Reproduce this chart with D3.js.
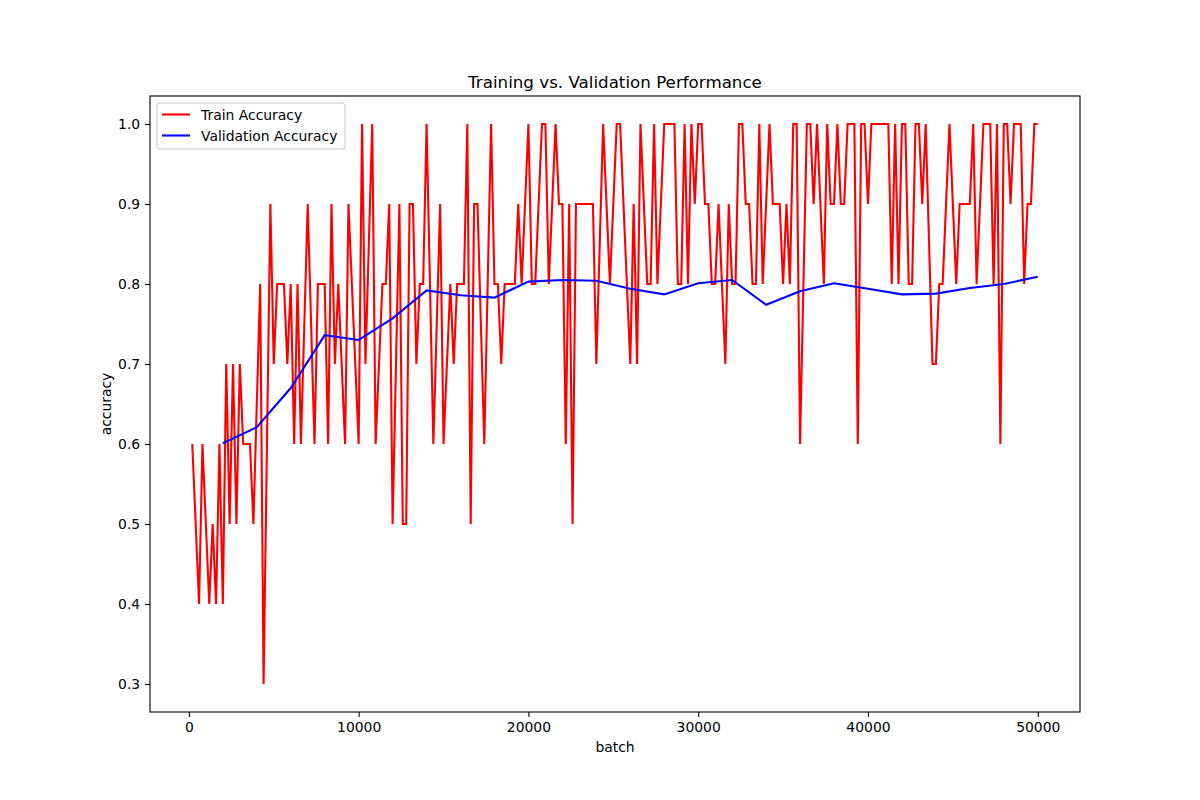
<!DOCTYPE html>
<html>
<head>
<meta charset="utf-8">
<script src="https://cdn.jsdelivr.net/npm/d3@7"></script>
<style>
  body { margin: 0; background: #fff; }
  svg text { font-family: "DejaVu Sans", sans-serif; fill: #000; }
</style>
</head>
<body>
<svg id="chart" width="1200" height="800"></svg>
<script>
// ---- data ----
const trainBatch = [
  200, 600, 800, 1200, 1400, 1600, 1800, 2000, 2200, 2400, 2600, 2800, 3000, 3200, 3400, 3600, 3800,
  4200, 4400, 4800, 5000, 5200, 5400, 5600, 5800, 6000, 6200, 6400, 6600, 7000, 7400, 7600, 7800,
  8000, 8200, 8400, 8600, 8800, 9200, 9400, 10000, 10200, 10400, 10800, 11000, 11400, 11600, 11800,
  12000, 12400, 12600, 12800, 13000, 13200, 13400, 13600, 13800, 14000, 14400, 14800, 15000, 15400,
  15600, 15800, 16000, 16200, 16400, 16600, 16800, 17000, 17400, 17800, 18000, 18200, 18400, 18600,
  18800, 19000, 19200, 19400, 19600, 20000, 20200, 20400, 20800, 21000, 21200, 21600, 21800, 22000,
  22200, 22400, 22600, 22800, 23000, 23200, 23400, 23600, 23800, 24000, 24400, 24800, 25200, 25400,
  26000, 26200, 26400, 26600, 27000, 27200, 27400, 27600, 28000, 28200, 28400, 28600, 28800, 29000,
  29200, 29400, 29600, 29800, 30000, 30200, 30400, 30600, 30800, 31000, 31200, 31600, 31800, 32000,
  32200, 32400, 32600, 32800, 33000, 33200, 33400, 33600, 33800, 34200, 34400, 34600, 34800, 35000,
  35200, 35400, 35600, 35800, 36000, 36400, 36600, 36800, 37000, 37400, 37600, 37800, 38000, 38200,
  38400, 38600, 38800, 39000, 39200, 39400, 39600, 39800, 40000, 40200, 40400, 40600, 40800, 41000,
  41200, 41400, 41600, 41800, 42000, 42200, 42400, 42600, 42800, 43000, 43200, 43400, 43800, 44000,
  44200, 44400, 44800, 45200, 45400, 45600, 45800, 46000, 46200, 46400, 46800, 47000, 47200, 47400,
  47600, 47800, 48000, 48200, 48400, 48600, 48800, 49000, 49200, 49400, 49600, 49800, 50000
];
const trainAcc = [
  0.6, 0.4, 0.6, 0.4, 0.5, 0.4, 0.6, 0.4, 0.7, 0.5, 0.7, 0.5, 0.7, 0.6, 0.6, 0.6, 0.5,
  0.8, 0.3, 0.9, 0.7, 0.8, 0.8, 0.8, 0.7, 0.8, 0.6, 0.8, 0.6, 0.9, 0.6, 0.8, 0.8,
  0.8, 0.6, 0.9, 0.7, 0.8, 0.6, 0.9, 0.6, 1.0, 0.7, 1.0, 0.6, 0.8, 0.8, 0.9,
  0.5, 0.9, 0.5, 0.5, 0.9, 0.9, 0.7, 0.8, 0.8, 1.0, 0.6, 0.9, 0.6, 0.8,
  0.7, 0.8, 0.8, 0.8, 1.0, 0.5, 0.9, 0.9, 0.6, 1.0, 0.8, 0.8, 0.7, 0.8,
  0.8, 0.8, 0.8, 0.9, 0.8, 1.0, 0.8, 0.8, 1.0, 1.0, 0.8, 1.0, 0.9, 0.9,
  0.6, 0.9, 0.5, 0.9, 0.9, 0.9, 0.9, 0.9, 0.9, 0.7, 1.0, 0.8, 1.0, 1.0,
  0.7, 0.9, 0.7, 1.0, 0.8, 0.8, 1.0, 0.8, 1.0, 1.0, 1.0, 1.0, 0.8, 0.8,
  1.0, 0.8, 1.0, 0.9, 1.0, 1.0, 0.9, 0.9, 0.8, 0.8, 0.9, 0.7, 0.9, 0.8,
  0.8, 1.0, 1.0, 0.9, 0.9, 0.8, 0.8, 1.0, 0.8, 1.0, 0.9, 0.9, 0.9, 0.8,
  0.9, 0.8, 1.0, 1.0, 0.6, 1.0, 1.0, 0.9, 1.0, 0.8, 1.0, 0.9, 0.9, 1.0,
  0.9, 0.9, 1.0, 1.0, 1.0, 0.6, 1.0, 1.0, 0.9, 1.0, 1.0, 1.0, 1.0, 1.0,
  1.0, 0.8, 1.0, 0.8, 1.0, 1.0, 0.8, 0.8, 1.0, 1.0, 0.9, 1.0, 0.7, 0.7,
  0.8, 0.8, 1.0, 0.8, 0.9, 0.9, 0.9, 0.9, 1.0, 0.8, 1.0, 1.0, 1.0, 0.8,
  1.0, 0.6, 1.0, 1.0, 0.9, 1.0, 1.0, 1.0, 0.8, 0.9, 0.9, 1.0, 1.0
];

const valBatch = [
  2000, 4000, 6000, 8000, 10000, 12000, 14000, 16000, 18000, 20000, 22000, 24000, 26000,
  28000, 30000, 32000, 34000, 36000, 38000, 40000, 42000, 44000, 46000, 48000, 50000
];
const valAcc = [
  0.601, 0.621, 0.670, 0.736, 0.730, 0.757, 0.792, 0.786, 0.783, 0.803, 0.805, 0.804, 0.794,
  0.787, 0.801, 0.805, 0.774, 0.791, 0.801, 0.794, 0.787, 0.788, 0.795, 0.800, 0.809
];

const xTicks = [0, 10000, 20000, 30000, 40000, 50000];
const yTicks = [0.3, 0.4, 0.5, 0.6, 0.7, 0.8, 0.9, 1.0];

const seriesNames = ["Train Accuracy", "Validation Accuracy"];
const seriesColors = ["#ff0000", "#0000ff"];

// ---- layout (matplotlib 12x8in @100dpi defaults) ----
const plotLeft = 150, plotRight = 1080, plotTop = 96, plotBottom = 712;

const trainData = trainBatch.map((b, i) => ({ x: b, y: trainAcc[i] }));
const valData = valBatch.map((b, i) => ({ x: b, y: valAcc[i] }));
const allPts = trainData.concat(valData);

// 5% margins like matplotlib
const [x0, x1] = d3.extent(allPts, d => d.x);
const [y0, y1] = d3.extent(allPts, d => d.y);
const xPad = (x1 - x0) * 0.05, yPad = (y1 - y0) * 0.05;

const xScale = d3.scaleLinear().domain([x0 - xPad, x1 + xPad]).range([plotLeft, plotRight]);
const yScale = d3.scaleLinear().domain([y0 - yPad, y1 + yPad]).range([plotBottom, plotTop]);

const svg = d3.select("#chart");

const line = d3.line().x(d => xScale(d.x)).y(d => yScale(d.y));

svg.append("path")
  .attr("d", line(trainData))
  .attr("fill", "none")
  .attr("stroke", seriesColors[0])
  .attr("stroke-width", 2.1);

svg.append("path")
  .attr("d", line(valData))
  .attr("fill", "none")
  .attr("stroke", seriesColors[1])
  .attr("stroke-width", 2.1);

// ---- axes ----
const xAxis = d3.axisBottom(xScale).tickValues(xTicks).tickSize(4.9).tickPadding(4.9)
  .tickFormat(d3.format("d"));
const yAxis = d3.axisLeft(yScale).tickValues(yTicks).tickSize(4.9).tickPadding(4.9)
  .tickFormat(d3.format(".1f"));

const gx = svg.append("g").attr("transform", `translate(0,${plotBottom})`).call(xAxis);
const gy = svg.append("g").attr("transform", `translate(${plotLeft},0)`).call(yAxis);
[gx, gy].forEach(g => {
  g.select(".domain").remove();
  g.selectAll("line").attr("stroke", "#000").attr("stroke-width", 1.1);
  g.selectAll("text").attr("font-size", "13.9px").attr("font-family", "DejaVu Sans");
});

// frame
svg.append("rect")
  .attr("x", plotLeft).attr("y", plotTop)
  .attr("width", plotRight - plotLeft).attr("height", plotBottom - plotTop)
  .attr("fill", "none").attr("stroke", "#000").attr("stroke-width", 1.1);

// ---- labels ----
svg.append("text")
  .attr("x", (plotLeft + plotRight) / 2).attr("y", 88)
  .attr("text-anchor", "middle").attr("font-size", "16.7px")
  .text("Training vs. Validation Performance");

svg.append("text")
  .attr("x", (plotLeft + plotRight) / 2).attr("y", 752)
  .attr("text-anchor", "middle").attr("font-size", "13.9px")
  .text("batch");

svg.append("text")
  .attr("transform", `translate(111,${(plotTop + plotBottom) / 2}) rotate(-90)`)
  .attr("text-anchor", "middle").attr("font-size", "13.9px")
  .text("accuracy");

// ---- legend ----
const legend = svg.append("g").attr("transform", "translate(157,103)");
legend.append("rect")
  .attr("width", 188).attr("height", 46).attr("rx", 3)
  .attr("fill", "#fff").attr("fill-opacity", 0.8)
  .attr("stroke", "#ccc").attr("stroke-width", 1.1);

seriesNames.forEach((name, i) => {
  const yy = 11.5 + i * 21;
  legend.append("line")
    .attr("x1", 5).attr("x2", 33).attr("y1", yy).attr("y2", yy)
    .attr("stroke", seriesColors[i]).attr("stroke-width", 2.1);
  legend.append("text")
    .attr("x", 44).attr("y", yy + 5)
    .attr("font-size", "13.9px")
    .text(name);
});
</script>
</body>
</html>
